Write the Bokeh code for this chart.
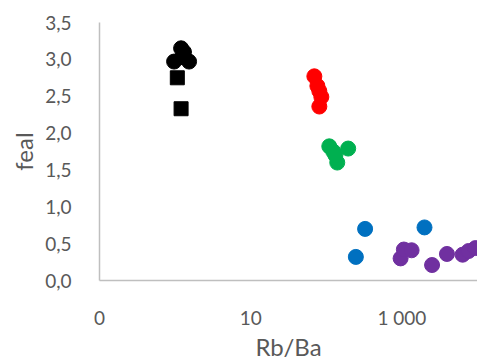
from bokeh.plotting import figure
from bokeh.models import ColumnDataSource, FixedTicker, Range1d
from bokeh.embed import file_html
from bokeh.resources import INLINE

# Rb/Ba ratio (x, log scale) against feal (y) for each sample group
black_circle_rbba = [1.2, 0.97, 1.53, 1.24, 1.31]
black_circle_feal = [3.15, 2.97, 2.97, 3.03, 3.10]

black_square_rbba = [1.07, 1.2]
black_square_feal = [2.75, 2.33]

red_rbba = [69.5, 76.2, 80.9, 86.0, 80.9]
red_feal = [2.77, 2.64, 2.57, 2.49, 2.36]

green_rbba = [109.5, 123.6, 139.6, 194.7, 132.0]
green_feal = [1.82, 1.75, 1.60, 1.79, 1.70]

blue_rbba = [326.0, 246.0, 1990.0]
blue_feal = [0.70, 0.32, 0.72]

purple_rbba = [961, 1062, 1343, 2506, 3945, 6353, 7620, 9410]
purple_feal = [0.30, 0.42, 0.41, 0.21, 0.36, 0.35, 0.40, 0.44]

x_tick_values = [0.1, 10, 1000]
x_tick_labels = ["0", "10", "1 000"]
y_tick_values = [0.0, 0.5, 1.0, 1.5, 2.0, 2.5, 3.0, 3.5]
y_tick_labels = ["0,0", "0,5", "1,0", "1,5", "2,0", "2,5", "3,0", "3,5"]

FONT = "Lato"
TEXT_GREY = "#595959"
AXIS_GREY = "#BFBFBF"

p = figure(
    width=477, height=363,
    x_axis_type="log",
    output_backend="svg",
    toolbar_location=None,
    min_border_left=99, min_border_right=0,
    min_border_top=22, min_border_bottom=81,
)
p.x_range = Range1d(0.1, 10000)
p.y_range = Range1d(0, 3.5)

groups = [
    (black_circle_rbba, black_circle_feal, "circle", "#000000", 15),
    (black_square_rbba, black_square_feal, "square", "#000000", 14),
    (red_rbba, red_feal, "circle", "#FF0000", 15),
    (green_rbba, green_feal, "circle", "#00B050", 15),
    (blue_rbba, blue_feal, "circle", "#0070C0", 15),
    (purple_rbba, purple_feal, "circle", "#7030A0", 15),
]
for xs, ys, marker, color, size in groups:
    src = ColumnDataSource(data=dict(x=xs, y=ys))
    p.scatter("x", "y", source=src, marker=marker, size=size,
              fill_color=color, line_color=color)

p.xgrid.grid_line_color = None
p.ygrid.grid_line_color = None
p.outline_line_color = None
p.background_fill_color = "white"
p.border_fill_color = "white"

xa = p.xaxis[0]
xa.ticker = FixedTicker(ticks=x_tick_values)
xa.major_label_overrides = dict(zip(x_tick_values, x_tick_labels))
xa.axis_label = "Rb/Ba"
xa.major_label_standoff = 19
xa.axis_label_standoff = 0

ya = p.yaxis[0]
ya.ticker = FixedTicker(ticks=y_tick_values)
ya.major_label_overrides = dict(zip(y_tick_values, y_tick_labels))
ya.axis_label = "feal"
ya.major_label_standoff = 22
ya.axis_label_standoff = 4

for ax in (xa, ya):
    ax.axis_line_color = AXIS_GREY
    ax.axis_line_width = 1.5
    ax.major_tick_line_color = None
    ax.minor_tick_line_color = None
    ax.major_label_text_font = FONT
    ax.major_label_text_font_size = "19px"
    ax.major_label_text_color = TEXT_GREY
    ax.axis_label_text_font = FONT
    ax.axis_label_text_font_size = "24px"
    ax.axis_label_text_font_style = "normal"
    ax.axis_label_text_color = TEXT_GREY

open("out.html", "w").write(file_html(p, INLINE))
